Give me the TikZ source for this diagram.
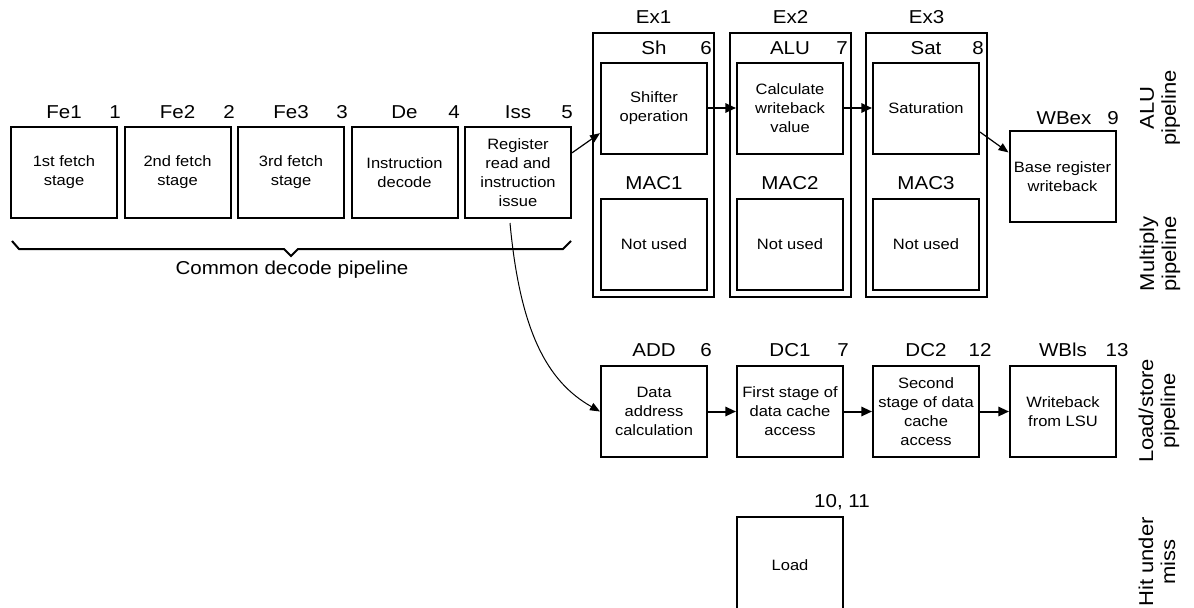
\documentclass[tikz,border=0pt]{standalone}
\usepackage{fontspec}
\setmainfont{Liberation Sans}[FakeStretch=1.1]
\usetikzlibrary{arrows.meta}
\tikzset{stagebox/.style={draw, line width=1.5pt, minimum width=79.5pt,
    minimum height=68.25pt, inner sep=0pt, align=center,
    font=\fontsize{11.25}{14.25}\selectfont},
  exbox/.style={draw, line width=1.5pt, minimum width=90.75pt,
    minimum height=198pt, inner sep=0pt},
  stagelbl/.style={inner sep=0pt, font=\fontsize{14}{16}\selectfont},
  pipelbl/.style={rotate=90, align=center, inner sep=0pt,
    font=\fontsize{15}{16.5}\selectfont},
  flow/.style={line width=1.5pt, -{Triangle[length=8pt,width=7pt]}},
  thinflow/.style={line width=0.9pt, -{Triangle[length=7.5pt,width=6pt]}}
}

\begin{document}
\begin{tikzpicture}[x=0.75pt,y=-0.75pt]
                \useasboundingbox (0,0) rectangle (1194,607);

                % Common decode pipeline
                \node[stagebox] (fe1) at (64,172.5) {1st fetch\\stage};
                \node[stagebox] (fe2) at (177.5,172.5) {2nd fetch\\stage};
                \node[stagebox] (fe3) at (291,172.5) {3rd fetch\\stage};
                \node[stagebox] (de) at (404.5,172.5) {Instruction\\decode};
                \node[stagebox] (iss) at (518,172.5) {Register\\read and\\instruction\\issue};

                \node[stagelbl] (fe1n) at (64,112) {Fe1};
                \node[stagelbl] (fe1k) at (115,112) {1};
                \node[stagelbl] (fe2n) at (177.5,112) {Fe2};
                \node[stagelbl] (fe2k) at (229,112) {2};
                \node[stagelbl] (fe3n) at (291,112) {Fe3};
                \node[stagelbl] (fe3k) at (342,112) {3};
                \node[stagelbl] (den) at (404.5,112) {De};
                \node[stagelbl] (dek) at (454,112) {4};
                \node[stagelbl] (issn) at (518,112) {Iss};
                \node[stagelbl] (issk) at (567,112) {5};

                \draw[line width=1.5pt] (12,241) -- (19,249) -- (284,249) -- (291,256)
                    -- (298,249) -- (563,249) -- (571,241);
                \node[stagelbl] (common) at (292,270) {Common decode pipeline};

                % Execute stages
                \node[exbox] (ex1) at (653.5,165) {};
                \node[exbox] (ex2) at (790.5,165) {};
                \node[exbox] (ex3) at (926.5,165) {};
                \node[stagelbl] (ex1n) at (653.5,17) {Ex1};
                \node[stagelbl] (ex2n) at (790.5,17) {Ex2};
                \node[stagelbl] (ex3n) at (926.5,17) {Ex3};

                \node[stagebox] (sh) at (654,108) {Shifter\\operation};
                \node[stagebox] (alu) at (790,108) {Calculate\\writeback\\value};
                \node[stagebox] (sat) at (926,108) {Saturation};
                \node[stagebox] (mac1) at (654,244) {Not used};
                \node[stagebox] (mac2) at (790,244) {Not used};
                \node[stagebox] (mac3) at (926,244) {Not used};
                \node[stagebox] (wbex) at (1062.5,176.5) {Base register\\writeback};

                \node[stagelbl] (shn) at (654,48) {Sh};
                \node[stagelbl] (shk) at (706,48) {6};
                \node[stagelbl] (alun) at (790,48) {ALU};
                \node[stagelbl] (aluk) at (842,48) {7};
                \node[stagelbl] (satn) at (926,48) {Sat};
                \node[stagelbl] (satk) at (978,48) {8};
                \node[stagelbl] (mac1n) at (654,183) {MAC1};
                \node[stagelbl] (mac2n) at (790,183) {MAC2};
                \node[stagelbl] (mac3n) at (926,183) {MAC3};
                \node[stagelbl] (wbexn) at (1064,118) {WBex};
                \node[stagelbl] (wbexk) at (1113,118) {9};

                % Load/store stages
                \node[stagebox] (add) at (654,411.5) {Data\\address\\calculation};
                \node[stagebox] (dc1) at (790,411.5) {First stage of\\data cache\\access};
                \node[stagebox] (dc2) at (926,411.5) {Second\\stage of data\\cache\\access};
                \node[stagebox] (wbls) at (1063,411.5) {Writeback\\from LSU};
                \node[stagebox, minimum height=72pt] (load) at (790,565) {Load};

                \node[stagelbl] (addn) at (654,350) {ADD};
                \node[stagelbl] (addk) at (706,350) {6};
                \node[stagelbl] (dc1n) at (790,350) {DC1};
                \node[stagelbl] (dc1k) at (843,350) {7};
                \node[stagelbl] (dc2n) at (926,350) {DC2};
                \node[stagelbl] (dc2k) at (980,350) {12};
                \node[stagelbl] (wblsn) at (1063,350) {WBls};
                \node[stagelbl] (wblsk) at (1117,350) {13};
                \node[stagelbl] (loadk) at (842,502) {10, 11};

                % Arrows
                \draw[thinflow] (iss.20) -- (sh.205);
                \draw[flow] (sh) -- (alu);
                \draw[flow] (alu) -- (sat);
                \draw[thinflow] (sat.336) -- (wbex.156);
                \draw[thinflow, line width=0.75pt] ([xshift=-6pt,yshift=-3pt]iss.south)
                    .. controls +(10,108) and +(-53,-30) .. (add.west);
                \draw[flow] (add) -- (dc1);
                \draw[flow] (dc1) -- (dc2);
                \draw[flow] (dc2) -- (wbls);

                % Pipeline names
                \node[pipelbl] (alup) at (1160,108) {ALU\\pipeline};
                \node[pipelbl] (mulp) at (1160,254) {Multiply\\pipeline};
                \node[pipelbl] (lsp) at (1159,411) {Load/store\\pipeline};
                \node[pipelbl] (hum) at (1157,562) {Hit under\\miss};
            \end{tikzpicture}
\end{document}
